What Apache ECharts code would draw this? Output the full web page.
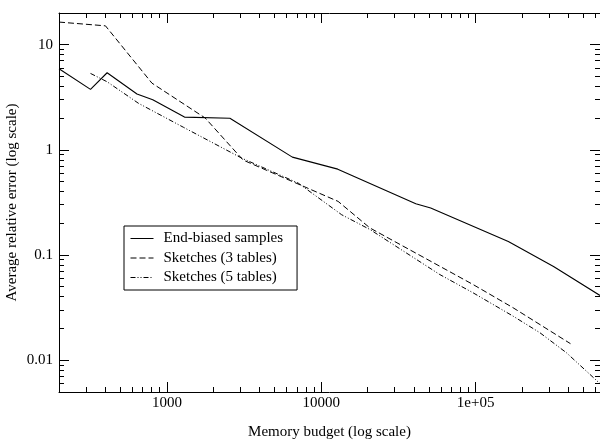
<!DOCTYPE html>
<html>
<head>
<meta charset="utf-8">
<script src="https://cdn.jsdelivr.net/npm/echarts@6/dist/echarts.min.js"></script>
<style>
  html, body { margin: 0; padding: 0; background: #fff; }
  #chart { width: 600px; height: 443px; }
</style>
</head>
<body>
<div id="chart"></div>
<script>
// Series names
const seriesNames = ['End-biased samples', 'Sketches (3 tables)', 'Sketches (5 tables)'];

// End-biased samples: memory budget / average relative error
const endBiasedX = [200, 320, 410, 640, 810, 1300, 2560, 6500, 12800, 41000, 51200, 163000, 320000, 640000];
const endBiasedY = [5.9, 3.76, 5.41, 3.4, 3.0, 2.05, 2.0, 0.853, 0.656, 0.308, 0.28, 0.135, 0.078, 0.0413];

// Sketches with 3 tables
const sketch3X = [200, 400, 800, 1770, 3120, 12860, 20700, 58700, 96400, 175000, 412000];
const sketch3Y = [16.4, 15.1, 4.31, 2.01, 0.80, 0.324, 0.181, 0.0783, 0.0525, 0.0316, 0.0144];

// Sketches with 5 tables
const sketch5X = [320, 410, 655, 1280, 3060, 7100, 13560, 20700, 58700, 96400, 175000, 261000, 388000, 640000];
const sketch5Y = [5.33, 4.44, 2.77, 1.64, 0.834, 0.483, 0.242, 0.175, 0.0653, 0.0438, 0.0263, 0.0183, 0.0118, 0.006];

// Axis ranges and tick labels
const xRange = [200, 640000];
const yRange = [0.005, 20];
const xTickValues = [1000, 10000, 100000];
const xTickLabels = ['1000', '10000', '1e+05'];
const yTickValues = [0.01, 0.1, 1, 10];
const yTickLabels = ['0.01', '0.1', '1', '10'];
const xMinorTicks = [300, 400, 500, 600, 700, 800, 900,
  2000, 3000, 4000, 5000, 6000, 7000, 8000, 9000,
  20000, 30000, 40000, 50000, 60000, 70000, 80000, 90000,
  200000, 300000, 400000, 500000, 600000];
const yMinorTicks = [0.006, 0.007, 0.008, 0.009,
  0.02, 0.03, 0.04, 0.05, 0.06, 0.07, 0.08, 0.09,
  0.2, 0.3, 0.4, 0.5, 0.6, 0.7, 0.8, 0.9,
  2, 3, 4, 5, 6, 7, 8, 9];

const FONT = 'Liberation Serif';
const INK = '#000';

function zip(xs, ys) { return xs.map((x, i) => [x, ys[i]]); }

function labelFor(values, labels) {
  return function (v) {
    for (let i = 0; i < values.length; i++) {
      if (Math.abs(Math.log10(v) - Math.log10(values[i])) < 1e-6) return labels[i];
    }
    return '';
  };
}

function crisp(p) { return Math.floor(p) + 0.5; }

// Short inward minor ticks on all four sides, placed through the axis scales
function minorTicks(values, dim) {
  return {
    type: 'custom',
    silent: true,
    clip: false,
    z: 5,
    data: values.map(v => dim === 0 ? [v, 1] : [1000, v]),
    renderItem: function (params, api) {
      const cs = params.coordSys;
      const v = api.value(dim);
      const st = { stroke: INK, lineWidth: 1 };
      if (dim === 0) {
        const px = crisp(api.coord([v, 1])[0]);
        const yb = cs.y + cs.height, yt = cs.y;
        return { type: 'group', children: [
          { type: 'line', shape: { x1: px, y1: yb, x2: px, y2: yb - 5 }, style: st },
          { type: 'line', shape: { x1: px, y1: yt, x2: px, y2: yt + 5 }, style: st }
        ] };
      }
      const py = crisp(api.coord([1000, v])[1]);
      const xl = cs.x, xr = cs.x + cs.width;
      return { type: 'group', children: [
        { type: 'line', shape: { x1: xl, y1: py, x2: xl + 5, y2: py }, style: st },
        { type: 'line', shape: { x1: xr, y1: py, x2: xr - 5, y2: py }, style: st }
      ] };
    }
  };
}

const axisLine = { show: true, lineStyle: { color: INK, width: 1 } };
const majorTick = { show: true, inside: true, length: 10, lineStyle: { color: INK, width: 1 } };

const chart = echarts.init(document.getElementById('chart'), null, { renderer: 'canvas' });

chart.setOption({
  animation: false,
  backgroundColor: '#fff',
  grid: { left: 59, right: 0, top: 13, bottom: 51, containLabel: false, outerBoundsMode: 'none' },
  xAxis: [
    {
      type: 'log', logBase: 10, min: xRange[0], max: xRange[1],
      position: 'bottom',
      name: 'Memory budget (log scale)', nameLocation: 'middle', nameGap: 33,
      nameMoveOverlap: false,
      nameTextStyle: { fontFamily: FONT, fontSize: 15, color: INK },
      axisLine: axisLine, axisTick: majorTick, splitLine: { show: false },
      axisLabel: {
        fontFamily: FONT, fontSize: 15, color: INK, margin: 4,
        showMinLabel: false, showMaxLabel: false,
        formatter: labelFor(xTickValues, xTickLabels)
      }
    },
    {
      type: 'log', logBase: 10, min: xRange[0], max: xRange[1],
      position: 'top',
      axisLine: axisLine, axisTick: majorTick, splitLine: { show: false },
      axisLabel: { show: false }
    }
  ],
  yAxis: [
    {
      type: 'log', logBase: 10, min: yRange[0], max: yRange[1],
      position: 'left',
      name: 'Average relative error (log scale)', nameLocation: 'middle', nameGap: 39,
      nameMoveOverlap: false,
      nameTextStyle: { fontFamily: FONT, fontSize: 15, color: INK },
      axisLine: axisLine, axisTick: majorTick, splitLine: { show: false },
      axisLabel: {
        fontFamily: FONT, fontSize: 15, color: INK, margin: 6,
        showMinLabel: false, showMaxLabel: false,
        formatter: labelFor(yTickValues, yTickLabels)
      }
    },
    {
      type: 'log', logBase: 10, min: yRange[0], max: yRange[1],
      position: 'right',
      axisLine: axisLine, axisTick: majorTick, splitLine: { show: false },
      axisLabel: { show: false }
    }
  ],
  legend: {
    data: seriesNames,
    orient: 'vertical',
    left: 124, top: 226,
    itemWidth: 23, itemHeight: 14, itemGap: 4.5,
    padding: [5, 14, 5, 6],
    borderColor: INK, borderWidth: 1, borderRadius: 0,
    backgroundColor: '#fff',
    selectedMode: false,
    itemStyle: { opacity: 0 },
    lineStyle: { width: 1 },
    textStyle: { fontFamily: FONT, fontSize: 15, color: INK, padding: [0, 0, 0, 5] }
  },
  series: [
    {
      name: seriesNames[0], type: 'line', data: zip(endBiasedX, endBiasedY),
      symbol: 'none', clip: true,
      lineStyle: { color: INK, width: 1.1, type: 'solid' },
      itemStyle: { color: INK }
    },
    {
      name: seriesNames[1], type: 'line', data: zip(sketch3X, sketch3Y),
      symbol: 'none', clip: true,
      lineStyle: { color: INK, width: 1, type: [6, 3] },
      itemStyle: { color: INK }
    },
    {
      name: seriesNames[2], type: 'line', data: zip(sketch5X, sketch5Y),
      symbol: 'none', clip: true,
      lineStyle: { color: INK, width: 1, type: [5, 2, 1, 2, 1, 2] },
      itemStyle: { color: INK }
    },
    minorTicks(xMinorTicks, 0),
    minorTicks(yMinorTicks, 1)
  ]
});
</script>
</body>
</html>
